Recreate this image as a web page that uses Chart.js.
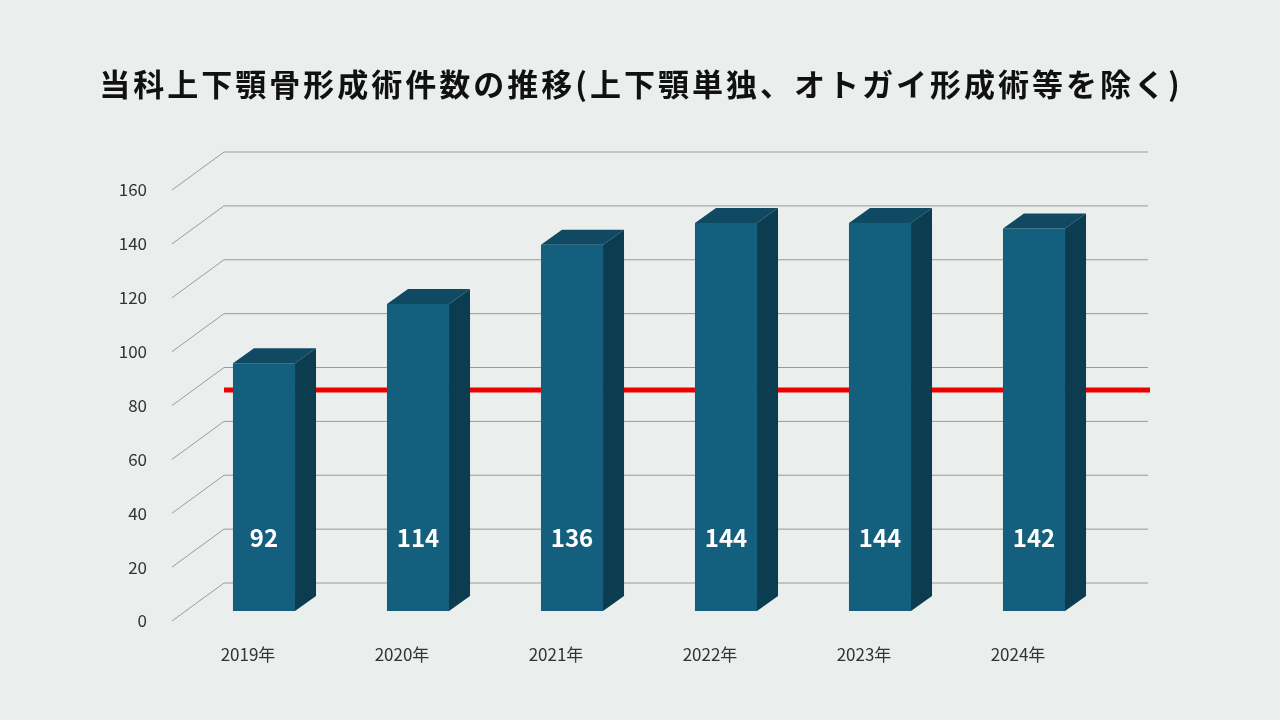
<!DOCTYPE html>
<html>
<head>
<meta charset="utf-8">
<script src="https://cdn.jsdelivr.net/npm/chart.js@4/dist/chart.umd.min.js"></script>
<style>
  body { margin: 0; background: #eaeeed; }
</style>
</head>
<body>
<canvas id="c" width="1280" height="720"></canvas>
<script>
const title = "当科上下顎骨形成術件数の推移(上下顎単独、オトガイ形成術等を除く)";
const years = ["2019年", "2020年", "2021年", "2022年", "2023年", "2024年"];
const cases = [92, 114, 136, 144, 144, 142];
const yTicks = [0, 20, 40, 60, 80, 100, 120, 140, 160];
const redLineValue = 82;

const FONT = "'Noto Sans CJK JP', 'Noto Sans', sans-serif";

// 3D look: side/top faces, perspective grid, title, labels
const deco = {
  id: "deco",
  beforeDatasetsDraw(chart) {
    const { ctx, scales: { y } } = chart;
    ctx.save();
    ctx.strokeStyle = "#9a9a9a";
    ctx.lineWidth = 1;
    yTicks.forEach(v => {
      const py = y.getPixelForValue(v);
      ctx.beginPath();
      ctx.moveTo(172, py + 10);
      ctx.lineTo(224, py - 28);
      ctx.lineTo(1148, py - 28);
      ctx.stroke();
    });
    const ry = y.getPixelForValue(redLineValue);
    ctx.strokeStyle = "#ee0000";
    ctx.lineWidth = 5;
    ctx.beginPath();
    ctx.moveTo(224, ry);
    ctx.lineTo(1150, ry);
    ctx.stroke();
    ctx.restore();
  },
  afterDatasetsDraw(chart) {
    const { ctx, scales: { y } } = chart;
    const dx = 21, dy = 15;
    ctx.save();
    chart.getDatasetMeta(0).data.forEach((bar, i) => {
      const l = bar.x - bar.width / 2, r = bar.x + bar.width / 2;
      const t = bar.y, b = bar.base;
      ctx.fillStyle = "#0f4a62";
      ctx.beginPath();
      ctx.moveTo(l, t); ctx.lineTo(l + dx, t - dy); ctx.lineTo(r + dx, t - dy); ctx.lineTo(r, t);
      ctx.closePath(); ctx.fill();
      ctx.fillStyle = "#0c3c4f";
      ctx.beginPath();
      ctx.moveTo(r, t); ctx.lineTo(r + dx, t - dy); ctx.lineTo(r + dx, b - dy); ctx.lineTo(r, b);
      ctx.closePath(); ctx.fill();
      ctx.fillStyle = "#ffffff";
      ctx.font = "bold 24px " + FONT;
      ctx.textAlign = "center";
      ctx.textBaseline = "middle";
      ctx.fillText(String(cases[i]), bar.x, y.getPixelForValue(27));
    });
    ctx.fillStyle = "#111";
    ctx.font = "bold 31px " + FONT;
    ctx.letterSpacing = "3px";
    ctx.textAlign = "center";
    ctx.textBaseline = "middle";
    ctx.fillText(title, 641, 84);
    ctx.restore();
  }
};

new Chart(document.getElementById("c"), {
  type: "bar",
  data: {
    labels: years,
    datasets: [{
      data: cases,
      backgroundColor: "#155f7e",
      barPercentage: 0.403,
      categoryPercentage: 1
    }]
  },
  options: {
    responsive: false,
    animation: false,
    layout: { padding: { top: 180, right: 169, left: 0, bottom: 0 } },
    plugins: { legend: { display: false }, tooltip: { enabled: false } },
    scales: {
      y: {
        min: 0, max: 160,
        afterBuildTicks: s => { s.ticks = yTicks.map(v => ({ value: v })); },
        afterFit: s => { s.width = 187; },
        grid: { display: false },
        border: { display: false },
        ticks: { padding: 32, labelOffset: 10, color: "#333", font: { family: FONT, size: 17 } }
      },
      x: {
        afterFit: s => { s.height = 109; },
        grid: { display: false },
        border: { display: false },
        ticks: { padding: 25, labelOffset: -16, color: "#333", font: { family: FONT, size: 17 } }
      }
    }
  },
  plugins: [deco]
});
</script>
</body>
</html>
